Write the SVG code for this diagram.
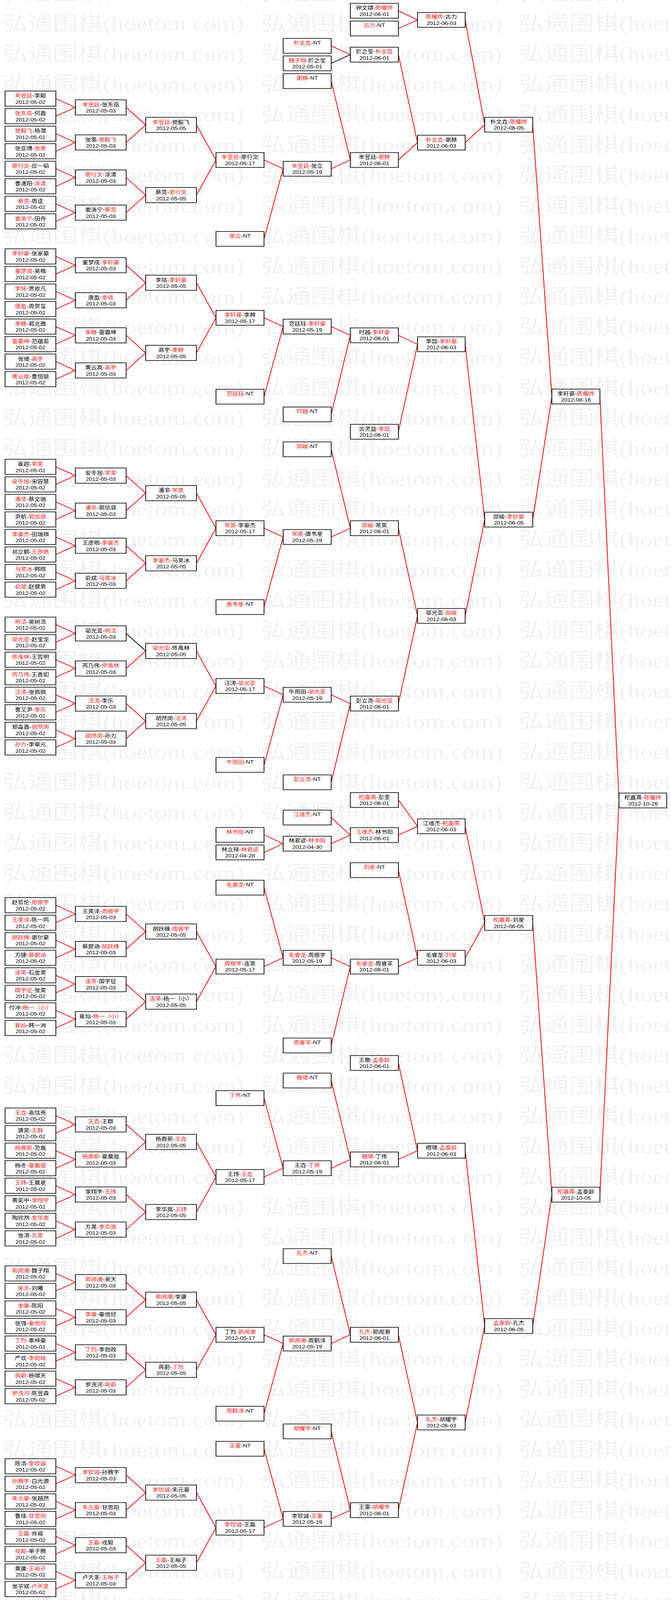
<svg xmlns="http://www.w3.org/2000/svg" width="1718" height="4745" viewBox="0 0 1718 4745" preserveAspectRatio="none">
<defs>
<style>
svg:root{width:100vw;height:100vh;display:block}
.b{fill:#fff;stroke:#111;stroke-width:2}
.t{font-family:"Liberation Sans","Noto Sans CJK SC",sans-serif;font-size:15px;text-anchor:middle;fill:#000}
.r{fill:#ee1c1c}
.c path{fill:none;stroke:#f00;stroke-width:2}
.c path.k{stroke:#000}
.wm{font-family:"Liberation Serif","Noto Sans CJK SC",serif;font-size:60px;fill:#f1f1f1}
</style>
<pattern id="wmp" patternUnits="userSpaceOnUse" x="0" y="22" width="661" height="90">
<text class="wm" x="7" y="68" textLength="618" lengthAdjust="spacingAndGlyphs">弘通围棋(hoetom.com)</text>
</pattern>
</defs>
<rect width="1718" height="4745" fill="#fff"/>
<rect width="1718" height="4745" fill="url(#wmp)"/>
<g id="connectors" class="c">
<path d="M143 292.5L193 318.5L143 344.5M143 396.5L193 422.5L143 448.5M143 500.5L193 526.5L143 552.5M143 604.5L193 630.5L143 656.5M143 760.5L193 786.5L143 812.5M143 864.5L193 890.5L143 916.5M143 968.5L193 994.5L143 1020.5M143 1072.5L193 1098.5L143 1124.5M143 1384.5L193 1410.5L143 1436.5M143 1488.5L193 1514.5L143 1540.5M143 1592.5L193 1618.5L143 1644.5M143 1696.5L193 1722.5L143 1748.5M143 1852.5L193 1878.5L143 1904.5M143 1956.5L193 1982.5L143 2008.5M143 2060.5L193 2086.5L143 2112.5M143 2164.5L193 2190.5L143 2216.5M143 2684.5L193 2710.5L143 2736.5M143 2788.5L193 2814.5L143 2840.5M143 2892.5L193 2918.5L143 2944.5M143 2996.5L193 3022.5L143 3048.5M143 3308.5L193 3334.5L143 3360.5M143 3412.5L193 3438.5L143 3464.5M143 3516.5L193 3542.5L143 3568.5M143 3620.5L193 3646.5L143 3672.5M143 3776.5L193 3802.5L143 3828.5M143 3880.5L193 3906.5L143 3932.5M143 3984.5L193 4010.5L143 4036.5M143 4088.5L193 4114.5L143 4140.5M143 4348.5L193 4374.5L143 4400.5M143 4452.5L193 4478.5L143 4504.5M143 4556.5L193 4582.5L143 4608.5M143 4660.5L193 4686.5L143 4712.5"/>
<path d="M323 318.5L373 370.5L323 422.5M323 526.5L373 578.5L323 630.5M323 786.5L373 838.5L323 890.5M323 994.5L373 1046.5L323 1098.5M323 1410.5L373 1462.5L323 1514.5M323 1618.5L373 1670.5L323 1722.5M373 1930.5L323 1982.5M323 2086.5L373 2138.5L323 2190.5M323 2710.5L373 2762.5L323 2814.5M323 2918.5L373 2970.5L323 3022.5M323 3334.5L373 3386.5L323 3438.5M323 3542.5L373 3594.5L323 3646.5M323 3802.5L373 3854.5L323 3906.5M323 4010.5L373 4062.5L323 4114.5M323 4374.5L373 4426.5L323 4478.5M323 4582.5L373 4634.5L323 4686.5"/>
<path class="k" d="M323 1878.5L373 1930.5"/>
<path d="M503 370.5L553 474.5L503 578.5M503 838.5L553 942.5L503 1046.5M503 1462.5L553 1566.5L503 1670.5M503 1930.5L553 2034.5L503 2138.5M503 2762.5L553 2866.5L503 2970.5M503 3386.5L553 3490.5L503 3594.5M503 3854.5L553 3958.5L503 4062.5M503 4426.5L553 4530.5L503 4634.5"/>
<path d="M676 474.5L725 500.5L676 708.5M676 942.5L725 968.5L676 1176.5M676 1566.5L725 1592.5L676 1800.5M676 2034.5L725 2060.5L676 2268.5M676 2476L725 2502L676 2528M676 2632.5L725 2840.5L676 2866.5M676 3256.5L725 3464.5L676 3490.5M676 3958.5L725 3984.5L676 4192.5M676 4296.5L725 4504.5L676 4530.5"/>
<path d="M848 136L897 162M848 240.5L897 474.5L848 500.5M848 968.5L897 994.5L848 1229M848 1332.5L897 1566.5L848 1592.5M848 2060.5L897 2086.5L848 2320M848 2424.5L897 2476.5L848 2502M848 2840.5L897 2866.5L848 3100.5M848 3204.5L897 3438.5L848 3464.5M848 3725L897 3958.5L848 3984.5M848 4245L897 4478.5L848 4504.5"/>
<path class="k" d="M848 188L897 162"/>
<path d="M1020 32L1069 59L1020 84.5M1020 162L1069 423L1020 474.5M1020 994.5L1069 1021L1020 1280.5M1020 1566.5L1069 1826.5L1020 2086.5M1020 2372.5L1069 2450.5L1020 2476.5M1020 2580.5L1069 2840.5L1020 2866.5M1020 3152.5L1069 3412.5L1020 3438.5M1020 3958.5L1069 4218.5L1020 4478.5"/>
<path d="M1191 59L1241 370L1191 423M1191 1021L1241 1541L1191 1826.5M1191 2450.5L1241 2737L1191 2840.5M1191 3412.5L1241 3932.5L1191 4218.5"/>
<path d="M1364 370L1413 1176L1364 1541M1364 2737L1413 3543L1364 3932.5"/>
<path d="M1536 1176L1585 2374L1536 3543"/>
</g>
<g id="round1">
<g id="r1-01"><rect class="b" x="13" y="270" width="130" height="45"/><text class="t" x="78" y="289"><tspan class="r">芈昱廷</tspan>-李聪<tspan x="78" dy="19">2012-05-02</tspan></text></g>
<g id="r1-02"><rect class="b" x="13" y="322" width="130" height="45"/><text class="t" x="78" y="341"><tspan class="r">张东岳</tspan>-何鑫<tspan x="78" dy="19">2012-05-02</tspan></text></g>
<g id="r1-03"><rect class="b" x="13" y="374" width="130" height="45"/><text class="t" x="78" y="393"><tspan class="r">党毅飞</tspan>-杨潜<tspan x="78" dy="19">2012-05-02</tspan></text></g>
<g id="r1-04"><rect class="b" x="13" y="426" width="130" height="45"/><text class="t" x="78" y="445">张亚博-<tspan class="r">张策</tspan><tspan x="78" dy="19">2012-05-02</tspan></text></g>
<g id="r1-05"><rect class="b" x="13" y="478" width="130" height="45"/><text class="t" x="78" y="497"><tspan class="r">廖行文</tspan>-应一韬<tspan x="78" dy="19">2012-05-02</tspan></text></g>
<g id="r1-06"><rect class="b" x="13" y="530" width="130" height="45"/><text class="t" x="78" y="549">曹潇阳-<tspan class="r">涂清</tspan><tspan x="78" dy="19">2012-05-02</tspan></text></g>
<g id="r1-07"><rect class="b" x="13" y="582" width="130" height="45"/><text class="t" x="78" y="601"><tspan class="r">蔡竞</tspan>-周逵<tspan x="78" dy="19">2012-05-02</tspan></text></g>
<g id="r1-08"><rect class="b" x="13" y="634" width="130" height="45"/><text class="t" x="78" y="653"><tspan class="r">娄洛宁</tspan>-田舟<tspan x="78" dy="19">2012-05-02</tspan></text></g>
<g id="r1-09"><rect class="b" x="13" y="738" width="130" height="45"/><text class="t" x="78" y="757"><tspan class="r">李轩豪</tspan>-张家豪<tspan x="78" dy="19">2012-05-02</tspan></text></g>
<g id="r1-10"><rect class="b" x="13" y="790" width="130" height="45"/><text class="t" x="78" y="809"><tspan class="r">童梦成</tspan>-吴楷<tspan x="78" dy="19">2012-05-02</tspan></text></g>
<g id="r1-11"><rect class="b" x="13" y="842" width="130" height="45"/><text class="t" x="78" y="861"><tspan class="r">李铭</tspan>-贾依凡<tspan x="78" dy="19">2012-05-02</tspan></text></g>
<g id="r1-12"><rect class="b" x="13" y="894" width="130" height="45"/><text class="t" x="78" y="913"><tspan class="r">唐盈</tspan>-周贺玺<tspan x="78" dy="19">2012-05-02</tspan></text></g>
<g id="r1-13"><rect class="b" x="13" y="946" width="130" height="45"/><text class="t" x="78" y="965"><tspan class="r">李赫</tspan>-郭北雅<tspan x="78" dy="19">2012-05-02</tspan></text></g>
<g id="r1-14"><rect class="b" x="13" y="998" width="130" height="45"/><text class="t" x="78" y="1017"><tspan class="r">雷震坤</tspan>-范蕴若<tspan x="78" dy="19">2012-05-02</tspan></text></g>
<g id="r1-15"><rect class="b" x="13" y="1050" width="130" height="45"/><text class="t" x="78" y="1069">张维-<tspan class="r">高宇</tspan><tspan x="78" dy="19">2012-05-02</tspan></text></g>
<g id="r1-16"><rect class="b" x="13" y="1102" width="130" height="45"/><text class="t" x="78" y="1121"><tspan class="r">黄云嵩</tspan>-曹恒挺<tspan x="78" dy="19">2012-05-02</tspan></text></g>
<g id="r1-17"><rect class="b" x="13" y="1362" width="130" height="45"/><text class="t" x="78" y="1381">崔超-<tspan class="r">常昊</tspan><tspan x="78" dy="19">2012-05-02</tspan></text></g>
<g id="r1-18"><rect class="b" x="13" y="1414" width="130" height="45"/><text class="t" x="78" y="1433"><tspan class="r">安冬旭</tspan>-宋容慧<tspan x="78" dy="19">2012-05-02</tspan></text></g>
<g id="r1-19"><rect class="b" x="13" y="1466" width="130" height="45"/><text class="t" x="78" y="1485"><tspan class="r">潘非</tspan>-蔡文驰<tspan x="78" dy="19">2012-05-02</tspan></text></g>
<g id="r1-20"><rect class="b" x="13" y="1518" width="130" height="45"/><text class="t" x="78" y="1537">尹航-<tspan class="r">郭信驿</tspan><tspan x="78" dy="19">2012-05-02</tspan></text></g>
<g id="r1-21"><rect class="b" x="13" y="1570" width="130" height="45"/><text class="t" x="78" y="1589"><tspan class="r">李豪杰</tspan>-田瑞祺<tspan x="78" dy="19">2012-05-02</tspan></text></g>
<g id="r1-22"><rect class="b" x="13" y="1622" width="130" height="45"/><text class="t" x="78" y="1641">祁立鹤-<tspan class="r">王彦皓</tspan><tspan x="78" dy="19">2012-05-02</tspan></text></g>
<g id="r1-23"><rect class="b" x="13" y="1674" width="130" height="45"/><text class="t" x="78" y="1693"><tspan class="r">马笑冰</tspan>-韩晗<tspan x="78" dy="19">2012-05-02</tspan></text></g>
<g id="r1-24"><rect class="b" x="13" y="1726" width="130" height="45"/><text class="t" x="78" y="1745"><tspan class="r">俞斌</tspan>-赵健男<tspan x="78" dy="19">2012-05-02</tspan></text></g>
<g id="r1-25"><rect class="b" x="13" y="1830" width="130" height="45"/><text class="t" x="78" y="1849"><tspan class="r">柯洁</tspan>-吴树浩<tspan x="78" dy="19">2012-05-02</tspan></text></g>
<g id="r1-26"><rect class="b" x="13" y="1882" width="130" height="45"/><text class="t" x="78" y="1901"><tspan class="r">邬光亚</tspan>-赵宝龙<tspan x="78" dy="19">2012-05-02</tspan></text></g>
<g id="r1-27"><rect class="b" x="13" y="1934" width="130" height="45"/><text class="t" x="78" y="1953"><tspan class="r">佟禹林</tspan>-王哲明<tspan x="78" dy="19">2012-05-02</tspan></text></g>
<g id="r1-28"><rect class="b" x="13" y="1986" width="130" height="45"/><text class="t" x="78" y="2005"><tspan class="r">芮乃伟</tspan>-王香如<tspan x="78" dy="19">2012-05-02</tspan></text></g>
<g id="r1-29"><rect class="b" x="13" y="2038" width="130" height="45"/><text class="t" x="78" y="2057"><tspan class="r">汪涛</tspan>-张佩佩<tspan x="78" dy="19">2012-05-02</tspan></text></g>
<g id="r1-30"><rect class="b" x="13" y="2090" width="130" height="45"/><text class="t" x="78" y="2109">曹又尹-<tspan class="r">李乐</tspan><tspan x="78" dy="19">2012-05-02</tspan></text></g>
<g id="r1-31"><rect class="b" x="13" y="2142" width="130" height="45"/><text class="t" x="78" y="2161">郑淼鑫-<tspan class="r">胡然闵</tspan><tspan x="78" dy="19">2012-05-02</tspan></text></g>
<g id="r1-32"><rect class="b" x="13" y="2194" width="130" height="45"/><text class="t" x="78" y="2213"><tspan class="r">孙力</tspan>-李章元<tspan x="78" dy="19">2012-05-02</tspan></text></g>
<g id="r1-33"><rect class="b" x="13" y="2662" width="130" height="45"/><text class="t" x="78" y="2681">赵哲伦-<tspan class="r">周振宇</tspan><tspan x="78" dy="19">2012-05-02</tspan></text></g>
<g id="r1-34"><rect class="b" x="13" y="2714" width="130" height="45"/><text class="t" x="78" y="2733"><tspan class="r">王昊洋</tspan>-陈一鸣<tspan x="78" dy="19">2012-05-02</tspan></text></g>
<g id="r1-35"><rect class="b" x="13" y="2766" width="130" height="45"/><text class="t" x="78" y="2785"><tspan class="r">胡跃峰</tspan>-谢尔豪<tspan x="78" dy="19">2012-05-02</tspan></text></g>
<g id="r1-36"><rect class="b" x="13" y="2818" width="130" height="45"/><text class="t" x="78" y="2837">方捷-<tspan class="r">蔡碧涵</tspan><tspan x="78" dy="19">2012-05-02</tspan></text></g>
<g id="r1-37"><rect class="b" x="13" y="2870" width="130" height="45"/><text class="t" x="78" y="2889"><tspan class="r">连笑</tspan>-石金昊<tspan x="78" dy="19">2012-05-02</tspan></text></g>
<g id="r1-38"><rect class="b" x="13" y="2922" width="130" height="45"/><text class="t" x="78" y="2941"><tspan class="r">国宇征</tspan>-张昊<tspan x="78" dy="19">2012-05-02</tspan></text></g>
<g id="r1-39"><rect class="b" x="13" y="2974" width="130" height="45"/><text class="t" x="78" y="2993">付冲-<tspan class="r">杨一（小）</tspan><tspan x="78" dy="19">2012-05-02</tspan></text></g>
<g id="r1-40"><rect class="b" x="13" y="3026" width="130" height="45"/><text class="t" x="78" y="3045"><tspan class="r">崔灿</tspan>-韩一洲<tspan x="78" dy="19">2012-05-02</tspan></text></g>
<g id="r1-41"><rect class="b" x="13" y="3286" width="130" height="45"/><text class="t" x="78" y="3305"><tspan class="r">王垚</tspan>-高恬亮<tspan x="78" dy="19">2012-05-02</tspan></text></g>
<g id="r1-42"><rect class="b" x="13" y="3338" width="130" height="45"/><text class="t" x="78" y="3357">唐奕-<tspan class="r">王群</tspan><tspan x="78" dy="19">2012-05-02</tspan></text></g>
<g id="r1-43"><rect class="b" x="13" y="3390" width="130" height="45"/><text class="t" x="78" y="3409"><tspan class="r">杨鼎新</tspan>-范胤<tspan x="78" dy="19">2012-05-02</tspan></text></g>
<g id="r1-44"><rect class="b" x="13" y="3442" width="130" height="45"/><text class="t" x="78" y="3461">杨冬-<tspan class="r">夏晨琨</tspan><tspan x="78" dy="19">2012-05-02</tspan></text></g>
<g id="r1-45"><rect class="b" x="13" y="3494" width="130" height="45"/><text class="t" x="78" y="3513"><tspan class="r">王玮</tspan>-王晨星<tspan x="78" dy="19">2012-05-02</tspan></text></g>
<g id="r1-46"><rect class="b" x="13" y="3546" width="130" height="45"/><text class="t" x="78" y="3565">黄奕中-<tspan class="r">李翔宇</tspan><tspan x="78" dy="19">2012-05-02</tspan></text></g>
<g id="r1-47"><rect class="b" x="13" y="3598" width="130" height="45"/><text class="t" x="78" y="3617">陶欣然-<tspan class="r">李华嵩</tspan><tspan x="78" dy="19">2012-05-02</tspan></text></g>
<g id="r1-48"><rect class="b" x="13" y="3650" width="130" height="45"/><text class="t" x="78" y="3669">张涛-<tspan class="r">方昊</tspan><tspan x="78" dy="19">2012-05-02</tspan></text></g>
<g id="r1-49"><rect class="b" x="13" y="3754" width="130" height="45"/><text class="t" x="78" y="3773"><tspan class="r">郭闻潮</tspan>-魏子翔<tspan x="78" dy="19">2012-05-02</tspan></text></g>
<g id="r1-50"><rect class="b" x="13" y="3806" width="130" height="45"/><text class="t" x="78" y="3825"><tspan class="r">吴天</tspan>-刘曦<tspan x="78" dy="19">2012-05-02</tspan></text></g>
<g id="r1-51"><rect class="b" x="13" y="3858" width="130" height="45"/><text class="t" x="78" y="3877"><tspan class="r">李康</tspan>-陈阳<tspan x="78" dy="19">2012-05-02</tspan></text></g>
<g id="r1-52"><rect class="b" x="13" y="3910" width="130" height="45"/><text class="t" x="78" y="3929">张强-<tspan class="r">秦悦欣</tspan><tspan x="78" dy="19">2012-05-02</tspan></text></g>
<g id="r1-53"><rect class="b" x="13" y="3962" width="130" height="45"/><text class="t" x="78" y="3981"><tspan class="r">丁烈</tspan>-辜梓豪<tspan x="78" dy="19">2012-05-02</tspan></text></g>
<g id="r1-54"><rect class="b" x="13" y="4014" width="130" height="45"/><text class="t" x="78" y="4033">严欢-<tspan class="r">李勋政</tspan><tspan x="78" dy="19">2012-05-02</tspan></text></g>
<g id="r1-55"><rect class="b" x="13" y="4066" width="130" height="45"/><text class="t" x="78" y="4085"><tspan class="r">蒋蔚</tspan>-杨啸天<tspan x="78" dy="19">2012-05-02</tspan></text></g>
<g id="r1-56"><rect class="b" x="13" y="4118" width="130" height="45"/><text class="t" x="78" y="4137"><tspan class="r">罗洗河</tspan>-陈昱森<tspan x="78" dy="19">2012-05-02</tspan></text></g>
<g id="r1-57"><rect class="b" x="13" y="4326" width="130" height="45"/><text class="t" x="78" y="4345">陈浩-<tspan class="r">李钦诚</tspan><tspan x="78" dy="19">2012-05-02</tspan></text></g>
<g id="r1-58"><rect class="b" x="13" y="4378" width="130" height="45"/><text class="t" x="78" y="4397"><tspan class="r">孙腾宇</tspan>-白光源<tspan x="78" dy="19">2012-05-02</tspan></text></g>
<g id="r1-59"><rect class="b" x="13" y="4430" width="130" height="45"/><text class="t" x="78" y="4449"><tspan class="r">朱元豪</tspan>-张越然<tspan x="78" dy="19">2012-05-02</tspan></text></g>
<g id="r1-60"><rect class="b" x="13" y="4482" width="130" height="45"/><text class="t" x="78" y="4501">鲁佳-<tspan class="r">甘思阳</tspan><tspan x="78" dy="19">2012-05-02</tspan></text></g>
<g id="r1-61"><rect class="b" x="13" y="4534" width="130" height="45"/><text class="t" x="78" y="4553"><tspan class="r">王磊</tspan>-肖威<tspan x="78" dy="19">2012-05-02</tspan></text></g>
<g id="r1-62"><rect class="b" x="13" y="4586" width="130" height="45"/><text class="t" x="78" y="4605"><tspan class="r">戎毅</tspan>-单子腾<tspan x="78" dy="19">2012-05-02</tspan></text></g>
<g id="r1-63"><rect class="b" x="13" y="4638" width="130" height="45"/><text class="t" x="78" y="4657">黄晨-<tspan class="r">王裕子</tspan><tspan x="78" dy="19">2012-05-02</tspan></text></g>
<g id="r1-64"><rect class="b" x="13" y="4690" width="130" height="45"/><text class="t" x="78" y="4709">张学斌-<tspan class="r">卢天圣</tspan><tspan x="78" dy="19">2012-05-02</tspan></text></g>
</g>
<g id="round2">
<g id="r2-01"><rect class="b" x="193" y="296" width="130" height="45"/><text class="t" x="258" y="315"><tspan class="r">芈昱廷</tspan>-张东岳<tspan x="258" dy="19">2012-05-03</tspan></text></g>
<g id="r2-02"><rect class="b" x="193" y="400" width="130" height="45"/><text class="t" x="258" y="419">张策-<tspan class="r">党毅飞</tspan><tspan x="258" dy="19">2012-05-03</tspan></text></g>
<g id="r2-03"><rect class="b" x="193" y="504" width="130" height="45"/><text class="t" x="258" y="523"><tspan class="r">廖行文</tspan>-涂清<tspan x="258" dy="19">2012-05-03</tspan></text></g>
<g id="r2-04"><rect class="b" x="193" y="608" width="130" height="45"/><text class="t" x="258" y="627">娄洛宁-<tspan class="r">蔡竞</tspan><tspan x="258" dy="19">2012-05-03</tspan></text></g>
<g id="r2-05"><rect class="b" x="193" y="764" width="130" height="45"/><text class="t" x="258" y="783">童梦成-<tspan class="r">李轩豪</tspan><tspan x="258" dy="19">2012-05-03</tspan></text></g>
<g id="r2-06"><rect class="b" x="193" y="868" width="130" height="45"/><text class="t" x="258" y="887">唐盈-<tspan class="r">李铭</tspan><tspan x="258" dy="19">2012-05-03</tspan></text></g>
<g id="r2-07"><rect class="b" x="193" y="972" width="130" height="45"/><text class="t" x="258" y="991"><tspan class="r">李赫</tspan>-雷震坤<tspan x="258" dy="19">2012-05-03</tspan></text></g>
<g id="r2-08"><rect class="b" x="193" y="1076" width="130" height="45"/><text class="t" x="258" y="1095">黄云嵩-<tspan class="r">高宇</tspan><tspan x="258" dy="19">2012-05-03</tspan></text></g>
<g id="r2-09"><rect class="b" x="193" y="1388" width="130" height="45"/><text class="t" x="258" y="1407">安冬旭-<tspan class="r">常昊</tspan><tspan x="258" dy="19">2012-05-03</tspan></text></g>
<g id="r2-10"><rect class="b" x="193" y="1492" width="130" height="45"/><text class="t" x="258" y="1511"><tspan class="r">潘非</tspan>-郭信驿<tspan x="258" dy="19">2012-05-03</tspan></text></g>
<g id="r2-11"><rect class="b" x="193" y="1596" width="130" height="45"/><text class="t" x="258" y="1615">王彦皓-<tspan class="r">李豪杰</tspan><tspan x="258" dy="19">2012-05-03</tspan></text></g>
<g id="r2-12"><rect class="b" x="193" y="1700" width="130" height="45"/><text class="t" x="258" y="1719">俞斌-<tspan class="r">马笑冰</tspan><tspan x="258" dy="19">2012-05-03</tspan></text></g>
<g id="r2-13"><rect class="b" x="193" y="1856" width="130" height="45"/><text class="t" x="258" y="1875">邬光亚-<tspan class="r">柯洁</tspan><tspan x="258" dy="19">2012-05-03</tspan></text></g>
<g id="r2-14"><rect class="b" x="193" y="1960" width="130" height="45"/><text class="t" x="258" y="1979">芮乃伟-<tspan class="r">佟禹林</tspan><tspan x="258" dy="19">2012-05-03</tspan></text></g>
<g id="r2-15"><rect class="b" x="193" y="2064" width="130" height="45"/><text class="t" x="258" y="2083"><tspan class="r">汪涛</tspan>-李乐<tspan x="258" dy="19">2012-05-03</tspan></text></g>
<g id="r2-16"><rect class="b" x="193" y="2168" width="130" height="45"/><text class="t" x="258" y="2187"><tspan class="r">胡然闵</tspan>-孙力<tspan x="258" dy="19">2012-05-03</tspan></text></g>
<g id="r2-17"><rect class="b" x="193" y="2688" width="130" height="45"/><text class="t" x="258" y="2707">王昊洋-<tspan class="r">周振宇</tspan><tspan x="258" dy="19">2012-05-03</tspan></text></g>
<g id="r2-18"><rect class="b" x="193" y="2792" width="130" height="45"/><text class="t" x="258" y="2811">蔡碧涵-<tspan class="r">胡跃峰</tspan><tspan x="258" dy="19">2012-05-03</tspan></text></g>
<g id="r2-19"><rect class="b" x="193" y="2896" width="130" height="45"/><text class="t" x="258" y="2915"><tspan class="r">连笑</tspan>-国宇征<tspan x="258" dy="19">2012-05-03</tspan></text></g>
<g id="r2-20"><rect class="b" x="193" y="3000" width="130" height="45"/><text class="t" x="258" y="3019">崔灿-<tspan class="r">杨一（小）</tspan><tspan x="258" dy="19">2012-05-03</tspan></text></g>
<g id="r2-21"><rect class="b" x="193" y="3312" width="130" height="45"/><text class="t" x="258" y="3331"><tspan class="r">王垚</tspan>-王群<tspan x="258" dy="19">2012-05-03</tspan></text></g>
<g id="r2-22"><rect class="b" x="193" y="3416" width="130" height="45"/><text class="t" x="258" y="3435"><tspan class="r">杨鼎新</tspan>-夏晨琨<tspan x="258" dy="19">2012-05-03</tspan></text></g>
<g id="r2-23"><rect class="b" x="193" y="3520" width="130" height="45"/><text class="t" x="258" y="3539">李翔宇-<tspan class="r">王玮</tspan><tspan x="258" dy="19">2012-05-03</tspan></text></g>
<g id="r2-24"><rect class="b" x="193" y="3624" width="130" height="45"/><text class="t" x="258" y="3643">方昊-<tspan class="r">李华嵩</tspan><tspan x="258" dy="19">2012-05-03</tspan></text></g>
<g id="r2-25"><rect class="b" x="193" y="3780" width="130" height="45"/><text class="t" x="258" y="3799"><tspan class="r">郭闻潮</tspan>-吴天<tspan x="258" dy="19">2012-05-03</tspan></text></g>
<g id="r2-26"><rect class="b" x="193" y="3884" width="130" height="45"/><text class="t" x="258" y="3903"><tspan class="r">李康</tspan>-秦悦欣<tspan x="258" dy="19">2012-05-03</tspan></text></g>
<g id="r2-27"><rect class="b" x="193" y="3988" width="130" height="45"/><text class="t" x="258" y="4007"><tspan class="r">丁烈</tspan>-李勋政<tspan x="258" dy="19">2012-05-03</tspan></text></g>
<g id="r2-28"><rect class="b" x="193" y="4092" width="130" height="45"/><text class="t" x="258" y="4111">罗洗河-<tspan class="r">蒋蔚</tspan><tspan x="258" dy="19">2012-05-03</tspan></text></g>
<g id="r2-29"><rect class="b" x="193" y="4352" width="130" height="45"/><text class="t" x="258" y="4371"><tspan class="r">李钦诚</tspan>-孙腾宇<tspan x="258" dy="19">2012-05-03</tspan></text></g>
<g id="r2-30"><rect class="b" x="193" y="4456" width="130" height="45"/><text class="t" x="258" y="4475"><tspan class="r">朱元豪</tspan>-甘思阳<tspan x="258" dy="19">2012-05-03</tspan></text></g>
<g id="r2-31"><rect class="b" x="193" y="4560" width="130" height="45"/><text class="t" x="258" y="4579"><tspan class="r">王磊</tspan>-戎毅<tspan x="258" dy="19">2012-05-03</tspan></text></g>
<g id="r2-32"><rect class="b" x="193" y="4664" width="130" height="45"/><text class="t" x="258" y="4683">卢天圣-<tspan class="r">王裕子</tspan><tspan x="258" dy="19">2012-05-03</tspan></text></g>
</g>
<g id="round3">
<g id="r3-01"><rect class="b" x="373" y="348" width="130" height="45"/><text class="t" x="438" y="367"><tspan class="r">芈昱廷</tspan>-党毅飞<tspan x="438" dy="19">2012-05-05</tspan></text></g>
<g id="r3-02"><rect class="b" x="373" y="556" width="130" height="45"/><text class="t" x="438" y="575">蔡竞-<tspan class="r">廖行文</tspan><tspan x="438" dy="19">2012-05-05</tspan></text></g>
<g id="r3-03"><rect class="b" x="373" y="816" width="130" height="45"/><text class="t" x="438" y="835">李铭-<tspan class="r">李轩豪</tspan><tspan x="438" dy="19">2012-05-05</tspan></text></g>
<g id="r3-04"><rect class="b" x="373" y="1024" width="130" height="45"/><text class="t" x="438" y="1043">高宇-<tspan class="r">李赫</tspan><tspan x="438" dy="19">2012-05-05</tspan></text></g>
<g id="r3-05"><rect class="b" x="373" y="1440" width="130" height="45"/><text class="t" x="438" y="1459">潘非-<tspan class="r">常昊</tspan><tspan x="438" dy="19">2012-05-05</tspan></text></g>
<g id="r3-06"><rect class="b" x="373" y="1648" width="130" height="45"/><text class="t" x="438" y="1667"><tspan class="r">李豪杰</tspan>-马笑冰<tspan x="438" dy="19">2012-05-05</tspan></text></g>
<g id="r3-07"><rect class="b" x="373" y="1908" width="130" height="45"/><text class="t" x="438" y="1927"><tspan class="r">邬光亚</tspan>-佟禹林<tspan x="438" dy="19">2012-05-05</tspan></text></g>
<g id="r3-08"><rect class="b" x="373" y="2116" width="130" height="45"/><text class="t" x="438" y="2135">胡然闵-<tspan class="r">汪涛</tspan><tspan x="438" dy="19">2012-05-05</tspan></text></g>
<g id="r3-09"><rect class="b" x="373" y="2740" width="130" height="45"/><text class="t" x="438" y="2759">胡跃峰-<tspan class="r">周振宇</tspan><tspan x="438" dy="19">2012-05-05</tspan></text></g>
<g id="r3-10"><rect class="b" x="373" y="2948" width="130" height="45"/><text class="t" x="438" y="2967"><tspan class="r">连笑</tspan>-杨一（小）<tspan x="438" dy="19">2012-05-05</tspan></text></g>
<g id="r3-11"><rect class="b" x="373" y="3364" width="130" height="45"/><text class="t" x="438" y="3383">杨鼎新-<tspan class="r">王垚</tspan><tspan x="438" dy="19">2012-05-05</tspan></text></g>
<g id="r3-12"><rect class="b" x="373" y="3572" width="130" height="45"/><text class="t" x="438" y="3591">李华嵩-<tspan class="r">王玮</tspan><tspan x="438" dy="19">2012-05-05</tspan></text></g>
<g id="r3-13"><rect class="b" x="373" y="3832" width="130" height="45"/><text class="t" x="438" y="3851"><tspan class="r">郭闻潮</tspan>-李康<tspan x="438" dy="19">2012-05-05</tspan></text></g>
<g id="r3-14"><rect class="b" x="373" y="4040" width="130" height="45"/><text class="t" x="438" y="4059">蒋蔚-<tspan class="r">丁烈</tspan><tspan x="438" dy="19">2012-05-05</tspan></text></g>
<g id="r3-15"><rect class="b" x="373" y="4404" width="130" height="45"/><text class="t" x="438" y="4423"><tspan class="r">李钦诚</tspan>-朱元豪<tspan x="438" dy="19">2012-05-05</tspan></text></g>
<g id="r3-16"><rect class="b" x="373" y="4612" width="130" height="45"/><text class="t" x="438" y="4631"><tspan class="r">王磊</tspan>-王裕子<tspan x="438" dy="19">2012-05-05</tspan></text></g>
</g>
<g id="round4">
<g id="r4-01"><rect class="b" x="553" y="452.5" width="123" height="44"/><text class="t" x="614.5" y="470.5"><tspan class="r">芈昱廷</tspan>-廖行文<tspan x="614.5" dy="19">2012-05-17</tspan></text></g>
<g id="r4-02"><rect class="b" x="553" y="686.5" width="123" height="44"/><text class="t" x="614.5" y="704.5"><tspan class="r">张立</tspan>-NT</text></g>
<g id="r4-03"><rect class="b" x="553" y="920.5" width="123" height="44"/><text class="t" x="614.5" y="938.5"><tspan class="r">李轩豪</tspan>-李赫<tspan x="614.5" dy="19">2012-05-17</tspan></text></g>
<g id="r4-04"><rect class="b" x="553" y="1154.5" width="123" height="44"/><text class="t" x="614.5" y="1172.5"><tspan class="r">范廷钰</tspan>-NT</text></g>
<g id="r4-05"><rect class="b" x="553" y="1544.5" width="123" height="44"/><text class="t" x="614.5" y="1562.5"><tspan class="r">常昊</tspan>-李豪杰<tspan x="614.5" dy="19">2012-05-17</tspan></text></g>
<g id="r4-06"><rect class="b" x="553" y="1778.5" width="123" height="44"/><text class="t" x="614.5" y="1796.5"><tspan class="r">唐韦星</tspan>-NT</text></g>
<g id="r4-07"><rect class="b" x="553" y="2012.5" width="123" height="44"/><text class="t" x="614.5" y="2030.5">汪涛-<tspan class="r">邬光亚</tspan><tspan x="614.5" dy="19">2012-05-17</tspan></text></g>
<g id="r4-08"><rect class="b" x="553" y="2246.5" width="123" height="44"/><text class="t" x="614.5" y="2264.5"><tspan class="r">牛雨田</tspan>-NT</text></g>
<g id="r4-09"><rect class="b" x="553" y="2454" width="123" height="44"/><text class="t" x="614.5" y="2472"><tspan class="r">林书阳</tspan>-NT</text></g>
<g id="r4-10"><rect class="b" x="553" y="2506" width="123" height="44"/><text class="t" x="614.5" y="2524">林立祥-<tspan class="r">林君谚</tspan><tspan x="614.5" dy="19">2012-04-28</tspan></text></g>
<g id="r4-11"><rect class="b" x="553" y="2610.5" width="123" height="44"/><text class="t" x="614.5" y="2628.5"><tspan class="r">毛睿龙</tspan>-NT</text></g>
<g id="r4-12"><rect class="b" x="553" y="2844.5" width="123" height="44"/><text class="t" x="614.5" y="2862.5"><tspan class="r">周振宇</tspan>-连笑<tspan x="614.5" dy="19">2012-05-17</tspan></text></g>
<g id="r4-13"><rect class="b" x="553" y="3234.5" width="123" height="44"/><text class="t" x="614.5" y="3252.5"><tspan class="r">丁伟</tspan>-NT</text></g>
<g id="r4-14"><rect class="b" x="553" y="3468.5" width="123" height="44"/><text class="t" x="614.5" y="3486.5">王玮-<tspan class="r">王垚</tspan><tspan x="614.5" dy="19">2012-05-17</tspan></text></g>
<g id="r4-15"><rect class="b" x="553" y="3936.5" width="123" height="44"/><text class="t" x="614.5" y="3954.5">丁烈-<tspan class="r">郭闻潮</tspan><tspan x="614.5" dy="19">2012-05-17</tspan></text></g>
<g id="r4-16"><rect class="b" x="553" y="4170.5" width="123" height="44"/><text class="t" x="614.5" y="4188.5"><tspan class="r">周鹤洋</tspan>-NT</text></g>
<g id="r4-17"><rect class="b" x="553" y="4274.5" width="123" height="44"/><text class="t" x="614.5" y="4292.5"><tspan class="r">王雷</tspan>-NT</text></g>
<g id="r4-18"><rect class="b" x="553" y="4508.5" width="123" height="44"/><text class="t" x="614.5" y="4526.5"><tspan class="r">李钦诚</tspan>-王磊<tspan x="614.5" dy="19">2012-05-17</tspan></text></g>
</g>
<g id="round5">
<g id="r5-01"><rect class="b" x="725" y="114" width="123" height="44"/><text class="t" x="786.5" y="132"><tspan class="r">朴文垚</tspan>-NT</text></g>
<g id="r5-02"><rect class="b" x="725" y="166" width="123" height="44"/><text class="t" x="786.5" y="184"><tspan class="r">魏子翔</tspan>-於之莹<tspan x="786.5" dy="19">2012-05-01</tspan></text></g>
<g id="r5-03"><rect class="b" x="725" y="218.5" width="123" height="44"/><text class="t" x="786.5" y="236.5"><tspan class="r">谢赫</tspan>-NT</text></g>
<g id="r5-04"><rect class="b" x="725" y="478.5" width="123" height="44"/><text class="t" x="786.5" y="496.5"><tspan class="r">芈昱廷</tspan>-张立<tspan x="786.5" dy="19">2012-05-19</tspan></text></g>
<g id="r5-05"><rect class="b" x="725" y="946.5" width="123" height="44"/><text class="t" x="786.5" y="964.5">范廷钰-<tspan class="r">李轩豪</tspan><tspan x="786.5" dy="19">2012-05-19</tspan></text></g>
<g id="r5-06"><rect class="b" x="725" y="1207" width="123" height="44"/><text class="t" x="786.5" y="1225"><tspan class="r">时越</tspan>-NT</text></g>
<g id="r5-07"><rect class="b" x="725" y="1310.5" width="123" height="44"/><text class="t" x="786.5" y="1328.5"><tspan class="r">邱峻</tspan>-NT</text></g>
<g id="r5-08"><rect class="b" x="725" y="1570.5" width="123" height="44"/><text class="t" x="786.5" y="1588.5"><tspan class="r">常昊</tspan>-唐韦星<tspan x="786.5" dy="19">2012-05-19</tspan></text></g>
<g id="r5-09"><rect class="b" x="725" y="2038.5" width="123" height="44"/><text class="t" x="786.5" y="2056.5">牛雨田-<tspan class="r">邬光亚</tspan><tspan x="786.5" dy="19">2012-05-19</tspan></text></g>
<g id="r5-10"><rect class="b" x="725" y="2298" width="123" height="44"/><text class="t" x="786.5" y="2316"><tspan class="r">彭立尧</tspan>-NT</text></g>
<g id="r5-11"><rect class="b" x="725" y="2402.5" width="123" height="44"/><text class="t" x="786.5" y="2420.5"><tspan class="r">江维杰</tspan>-NT</text></g>
<g id="r5-12"><rect class="b" x="725" y="2480" width="123" height="44"/><text class="t" x="786.5" y="2498">林君谚-<tspan class="r">林书阳</tspan><tspan x="786.5" dy="19">2012-04-30</tspan></text></g>
<g id="r5-13"><rect class="b" x="725" y="2818.5" width="123" height="44"/><text class="t" x="786.5" y="2836.5"><tspan class="r">毛睿龙</tspan>-周振宇<tspan x="786.5" dy="19">2012-05-19</tspan></text></g>
<g id="r5-14"><rect class="b" x="725" y="3078.5" width="123" height="44"/><text class="t" x="786.5" y="3096.5"><tspan class="r">周睿羊</tspan>-NT</text></g>
<g id="r5-15"><rect class="b" x="725" y="3182.5" width="123" height="44"/><text class="t" x="786.5" y="3200.5"><tspan class="r">檀啸</tspan>-NT</text></g>
<g id="r5-16"><rect class="b" x="725" y="3442.5" width="123" height="44"/><text class="t" x="786.5" y="3460.5">王垚-<tspan class="r">丁伟</tspan><tspan x="786.5" dy="19">2012-05-19</tspan></text></g>
<g id="r5-17"><rect class="b" x="725" y="3703" width="123" height="44"/><text class="t" x="786.5" y="3721"><tspan class="r">孔杰</tspan>-NT</text></g>
<g id="r5-18"><rect class="b" x="725" y="3962.5" width="123" height="44"/><text class="t" x="786.5" y="3980.5"><tspan class="r">郭闻潮</tspan>-周鹤洋<tspan x="786.5" dy="19">2012-05-19</tspan></text></g>
<g id="r5-19"><rect class="b" x="725" y="4223" width="123" height="44"/><text class="t" x="786.5" y="4241"><tspan class="r">胡耀宇</tspan>-NT</text></g>
<g id="r5-20"><rect class="b" x="725" y="4482.5" width="123" height="44"/><text class="t" x="786.5" y="4500.5">李钦诚-<tspan class="r">王雷</tspan><tspan x="786.5" dy="19">2012-05-19</tspan></text></g>
</g>
<g id="round6">
<g id="r6-01"><rect class="b" x="897" y="10" width="123" height="44"/><text class="t" x="958.5" y="28">钟文靖-<tspan class="r">陈耀烨</tspan><tspan x="958.5" dy="19">2012-06-01</tspan></text></g>
<g id="r6-02"><rect class="b" x="897" y="62.5" width="123" height="44"/><text class="t" x="958.5" y="80.5"><tspan class="r">古力</tspan>-NT</text></g>
<g id="r6-03"><rect class="b" x="897" y="140" width="123" height="44"/><text class="t" x="958.5" y="158">於之莹-<tspan class="r">朴文垚</tspan><tspan x="958.5" dy="19">2012-06-01</tspan></text></g>
<g id="r6-04"><rect class="b" x="897" y="452.5" width="123" height="44"/><text class="t" x="958.5" y="470.5">芈昱廷-<tspan class="r">谢赫</tspan><tspan x="958.5" dy="19">2012-06-01</tspan></text></g>
<g id="r6-05"><rect class="b" x="897" y="972.5" width="123" height="44"/><text class="t" x="958.5" y="990.5">时越-<tspan class="r">李轩豪</tspan><tspan x="958.5" dy="19">2012-06-01</tspan></text></g>
<g id="r6-06"><rect class="b" x="897" y="1258.5" width="123" height="44"/><text class="t" x="958.5" y="1276.5">古灵益-<tspan class="r">李喆</tspan><tspan x="958.5" dy="19">2012-06-01</tspan></text></g>
<g id="r6-07"><rect class="b" x="897" y="1544.5" width="123" height="44"/><text class="t" x="958.5" y="1562.5"><tspan class="r">邱峻</tspan>-常昊<tspan x="958.5" dy="19">2012-06-01</tspan></text></g>
<g id="r6-08"><rect class="b" x="897" y="2064.5" width="123" height="44"/><text class="t" x="958.5" y="2082.5">彭立尧-<tspan class="r">邬光亚</tspan><tspan x="958.5" dy="19">2012-06-01</tspan></text></g>
<g id="r6-09"><rect class="b" x="897" y="2350.5" width="123" height="44"/><text class="t" x="958.5" y="2368.5"><tspan class="r">柁嘉熹</tspan>-彭荃<tspan x="958.5" dy="19">2012-06-01</tspan></text></g>
<g id="r6-10"><rect class="b" x="897" y="2454.5" width="123" height="44"/><text class="t" x="958.5" y="2472.5"><tspan class="r">江维杰</tspan>-林书阳<tspan x="958.5" dy="19">2012-06-01</tspan></text></g>
<g id="r6-11"><rect class="b" x="897" y="2558.5" width="123" height="44"/><text class="t" x="958.5" y="2576.5"><tspan class="r">刘星</tspan>-NT</text></g>
<g id="r6-12"><rect class="b" x="897" y="2844.5" width="123" height="44"/><text class="t" x="958.5" y="2862.5"><tspan class="r">毛睿龙</tspan>-周睿羊<tspan x="958.5" dy="19">2012-06-01</tspan></text></g>
<g id="r6-13"><rect class="b" x="897" y="3130.5" width="123" height="44"/><text class="t" x="958.5" y="3148.5">王檄-<tspan class="r">孟泰龄</tspan><tspan x="958.5" dy="19">2012-06-01</tspan></text></g>
<g id="r6-14"><rect class="b" x="897" y="3416.5" width="123" height="44"/><text class="t" x="958.5" y="3434.5"><tspan class="r">檀啸</tspan>-丁伟<tspan x="958.5" dy="19">2012-06-01</tspan></text></g>
<g id="r6-15"><rect class="b" x="897" y="3936.5" width="123" height="44"/><text class="t" x="958.5" y="3954.5"><tspan class="r">孔杰</tspan>-郭闻潮<tspan x="958.5" dy="19">2012-06-01</tspan></text></g>
<g id="r6-16"><rect class="b" x="897" y="4456.5" width="123" height="44"/><text class="t" x="958.5" y="4474.5">王雷-<tspan class="r">胡耀宇</tspan><tspan x="958.5" dy="19">2012-06-01</tspan></text></g>
</g>
<g id="round7">
<g id="r7-01"><rect class="b" x="1069" y="37" width="122" height="44"/><text class="t" x="1130" y="55"><tspan class="r">陈耀烨</tspan>-古力<tspan x="1130" dy="19">2012-06-03</tspan></text></g>
<g id="r7-02"><rect class="b" x="1069" y="401" width="122" height="44"/><text class="t" x="1130" y="419"><tspan class="r">朴文垚</tspan>-谢赫<tspan x="1130" dy="19">2012-06-03</tspan></text></g>
<g id="r7-03"><rect class="b" x="1069" y="999" width="122" height="44"/><text class="t" x="1130" y="1017">李喆-<tspan class="r">李轩豪</tspan><tspan x="1130" dy="19">2012-06-03</tspan></text></g>
<g id="r7-04"><rect class="b" x="1069" y="1804.5" width="122" height="44"/><text class="t" x="1130" y="1822.5">邬光亚-<tspan class="r">邱峻</tspan><tspan x="1130" dy="19">2012-06-03</tspan></text></g>
<g id="r7-05"><rect class="b" x="1069" y="2428.5" width="122" height="44"/><text class="t" x="1130" y="2446.5">江维杰-<tspan class="r">柁嘉熹</tspan><tspan x="1130" dy="19">2012-06-03</tspan></text></g>
<g id="r7-06"><rect class="b" x="1069" y="2818.5" width="122" height="44"/><text class="t" x="1130" y="2836.5">毛睿龙-<tspan class="r">刘星</tspan><tspan x="1130" dy="19">2012-06-03</tspan></text></g>
<g id="r7-07"><rect class="b" x="1069" y="3390.5" width="122" height="44"/><text class="t" x="1130" y="3408.5">檀啸-<tspan class="r">孟泰龄</tspan><tspan x="1130" dy="19">2012-06-03</tspan></text></g>
<g id="r7-08"><rect class="b" x="1069" y="4196.5" width="122" height="44"/><text class="t" x="1130" y="4214.5"><tspan class="r">孔杰</tspan>-胡耀宇<tspan x="1130" dy="19">2012-06-03</tspan></text></g>
</g>
<g id="round8">
<g id="r8-01"><rect class="b" x="1241" y="348" width="123" height="44"/><text class="t" x="1302.5" y="366">朴文垚-<tspan class="r">陈耀烨</tspan><tspan x="1302.5" dy="19">2012-06-05</tspan></text></g>
<g id="r8-02"><rect class="b" x="1241" y="1519" width="123" height="44"/><text class="t" x="1302.5" y="1537">邱峻-<tspan class="r">李轩豪</tspan><tspan x="1302.5" dy="19">2012-06-05</tspan></text></g>
<g id="r8-03"><rect class="b" x="1241" y="2715" width="123" height="44"/><text class="t" x="1302.5" y="2733"><tspan class="r">柁嘉熹</tspan>-刘星<tspan x="1302.5" dy="19">2012-06-05</tspan></text></g>
<g id="r8-04"><rect class="b" x="1241" y="3910.5" width="123" height="44"/><text class="t" x="1302.5" y="3928.5"><tspan class="r">孟泰龄</tspan>-孔杰<tspan x="1302.5" dy="19">2012-06-05</tspan></text></g>
</g>
<g id="round9">
<g id="r9-01"><rect class="b" x="1413" y="1154" width="123" height="44"/><text class="t" x="1474.5" y="1172">李轩豪-<tspan class="r">陈耀烨</tspan><tspan x="1474.5" dy="19">2012-08-16</tspan></text></g>
<g id="r9-02"><rect class="b" x="1413" y="3521" width="123" height="44"/><text class="t" x="1474.5" y="3539"><tspan class="r">柁嘉熹</tspan>-孟泰龄<tspan x="1474.5" dy="19">2012-10-05</tspan></text></g>
</g>
<g id="final">
<g id="r10-01"><rect class="b" x="1585" y="2352" width="122" height="44"/><text class="t" x="1646" y="2370">柁嘉熹-<tspan class="r">陈耀烨</tspan><tspan x="1646" dy="19">2012-10-26</tspan></text></g>
</g>
</svg>
